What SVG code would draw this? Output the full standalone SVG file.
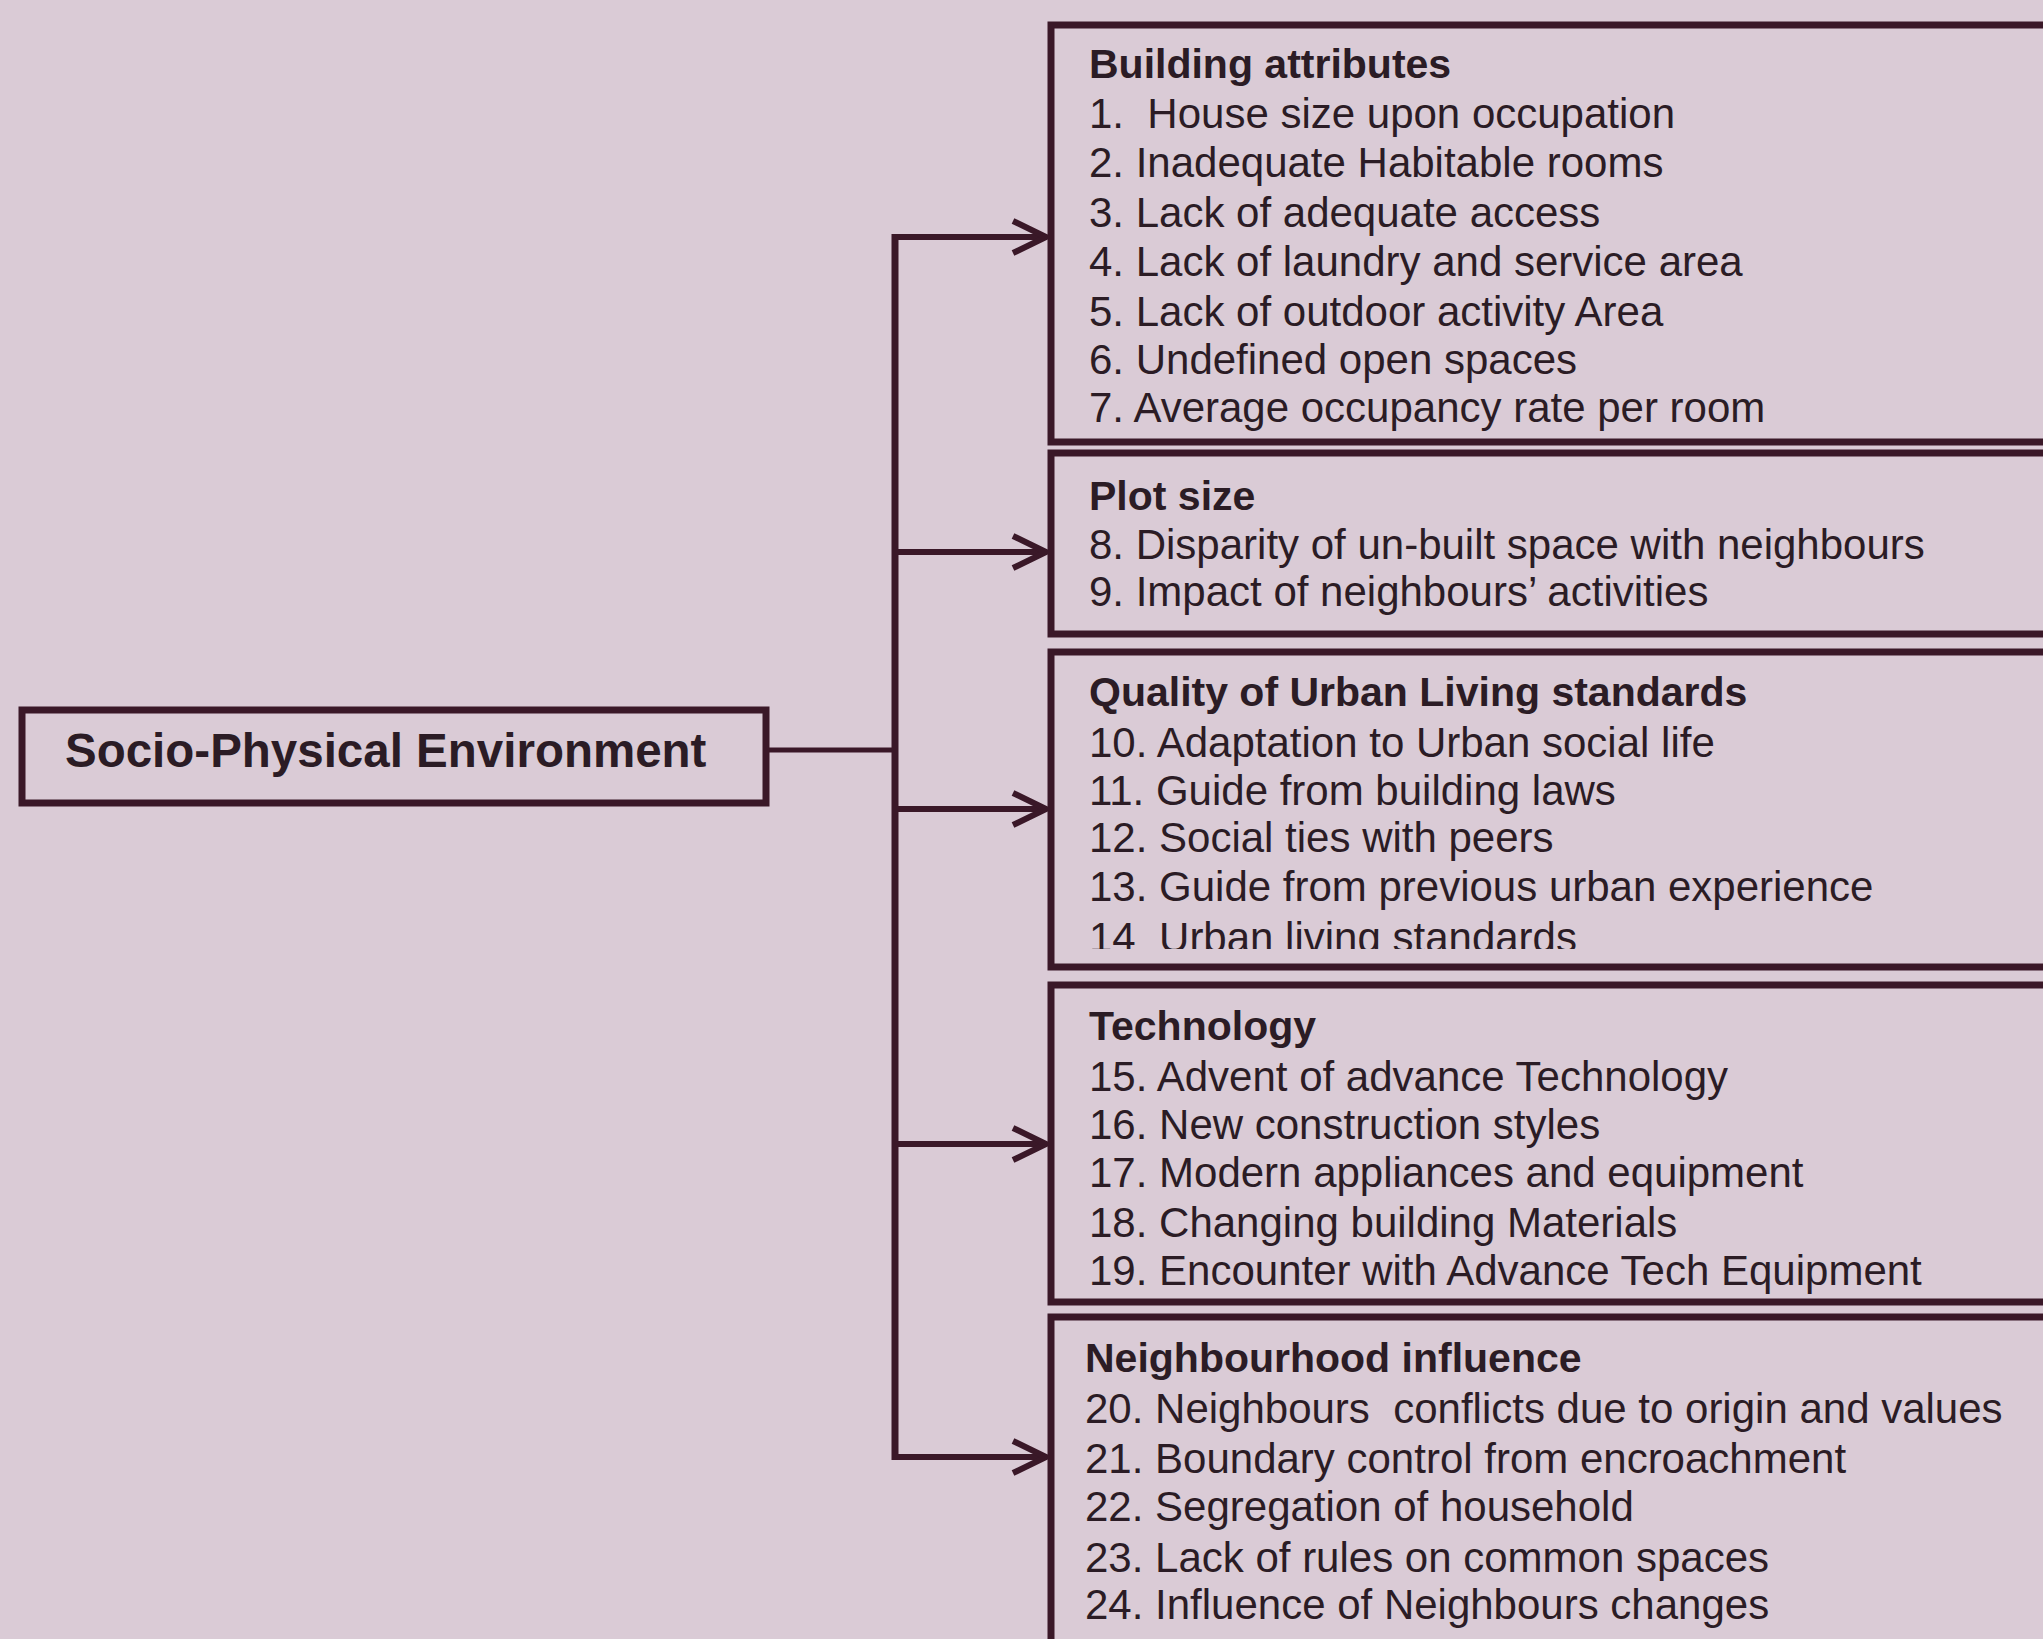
<svg xmlns="http://www.w3.org/2000/svg" width="2043" height="1639" viewBox="0 0 2043 1639">
<defs>
<style>
.box{fill:none;stroke:#3a1828;stroke-width:7}
.ln{fill:none;stroke:#3a1828;stroke-linecap:butt}
.t{font-family:"Liberation Sans",Arial,sans-serif;font-size:42px;fill:#2b1c25;white-space:pre}
.h{font-family:"Liberation Sans",Arial,sans-serif;font-size:41px;font-weight:bold;fill:#2b1c25}
.main{font-family:"Liberation Sans",Arial,sans-serif;font-size:47.5px;font-weight:bold;fill:#2b1c25}
</style>
<marker id="ah" markerUnits="userSpaceOnUse" markerWidth="44" markerHeight="40" refX="36" refY="20" orient="auto" viewBox="0 0 44 40">
<path d="M3,4 L36,20 L3,36" fill="none" stroke="#3a1828" stroke-width="6" stroke-linejoin="miter"/>
</marker>
<clipPath id="c3"><rect x="1050" y="653" width="1000" height="296"/></clipPath>
</defs>
<rect x="0" y="0" width="2043" height="1639" fill="#dacbd6"/>

<g id="connectors">
<line class="ln" x1="766" y1="750" x2="895" y2="750" stroke-width="5"/>
<line class="ln" x1="895" y1="234" x2="895" y2="1460" stroke-width="7"/>
<line class="ln" x1="895" y1="237" x2="1046" y2="237" stroke-width="6" marker-end="url(#ah)"/>
<line class="ln" x1="895" y1="552" x2="1046" y2="552" stroke-width="6" marker-end="url(#ah)"/>
<line class="ln" x1="895" y1="809" x2="1046" y2="809" stroke-width="6" marker-end="url(#ah)"/>
<line class="ln" x1="895" y1="1144" x2="1046" y2="1144" stroke-width="6" marker-end="url(#ah)"/>
<line class="ln" x1="892" y1="1457" x2="1046" y2="1457" stroke-width="6" marker-end="url(#ah)"/>
</g>

<g id="socio-physical">
<rect class="box" x="22" y="710" width="744" height="93"/>
<text class="main" x="65" y="767">Socio-Physical Environment</text>
</g>

<g id="building-attributes">
<rect class="box" x="1051" y="25" width="1060" height="417"/>
<text class="h" x="1089" y="78">Building attributes</text>
<text class="t" x="1089" y="128">1.  House size upon occupation</text>
<text class="t" x="1089" y="177">2. Inadequate Habitable rooms</text>
<text class="t" x="1089" y="227">3. Lack of adequate access</text>
<text class="t" x="1089" y="276">4. Lack of laundry and service area</text>
<text class="t" x="1089" y="326">5. Lack of outdoor activity Area</text>
<text class="t" x="1089" y="374">6. Undefined open spaces</text>
<text class="t" x="1089" y="422">7. Average occupancy rate per room</text>
</g>

<g id="plot-size">
<rect class="box" x="1051" y="453" width="1060" height="181"/>
<text class="h" x="1089" y="510">Plot size</text>
<text class="t" x="1089" y="559">8. Disparity of un-built space with neighbours</text>
<text class="t" x="1089" y="606">9. Impact of neighbours’ activities</text>
</g>

<g id="urban-living">
<text class="h" x="1089" y="706">Quality of Urban Living standards</text>
<text class="t" x="1089" y="757">10. Adaptation to Urban social life</text>
<text class="t" x="1089" y="805">11. Guide from building laws</text>
<text class="t" x="1089" y="852">12. Social ties with peers</text>
<text class="t" x="1089" y="901">13. Guide from previous urban experience</text>
<text class="t" x="1089" y="952" clip-path="url(#c3)">14  Urban living standards</text>
<rect class="box" x="1051" y="652" width="1060" height="315"/>
</g>

<g id="technology">
<rect class="box" x="1051" y="985" width="1060" height="317"/>
<text class="h" x="1089" y="1040">Technology</text>
<text class="t" x="1089" y="1091">15. Advent of advance Technology</text>
<text class="t" x="1089" y="1139">16. New construction styles</text>
<text class="t" x="1089" y="1187">17. Modern appliances and equipment</text>
<text class="t" x="1089" y="1237">18. Changing building Materials</text>
<text class="t" x="1089" y="1285">19. Encounter with Advance Tech Equipment</text>
</g>

<g id="neighbourhood">
<rect class="box" x="1051" y="1317" width="1060" height="400"/>
<text class="h" x="1085" y="1372">Neighbourhood influence</text>
<text class="t" x="1085" y="1423">20. Neighbours  conflicts due to origin and values</text>
<text class="t" x="1085" y="1473">21. Boundary control from encroachment</text>
<text class="t" x="1085" y="1521">22. Segregation of household</text>
<text class="t" x="1085" y="1572">23. Lack of rules on common spaces</text>
<text class="t" x="1085" y="1619">24. Influence of Neighbours changes</text>
</g>
</svg>
